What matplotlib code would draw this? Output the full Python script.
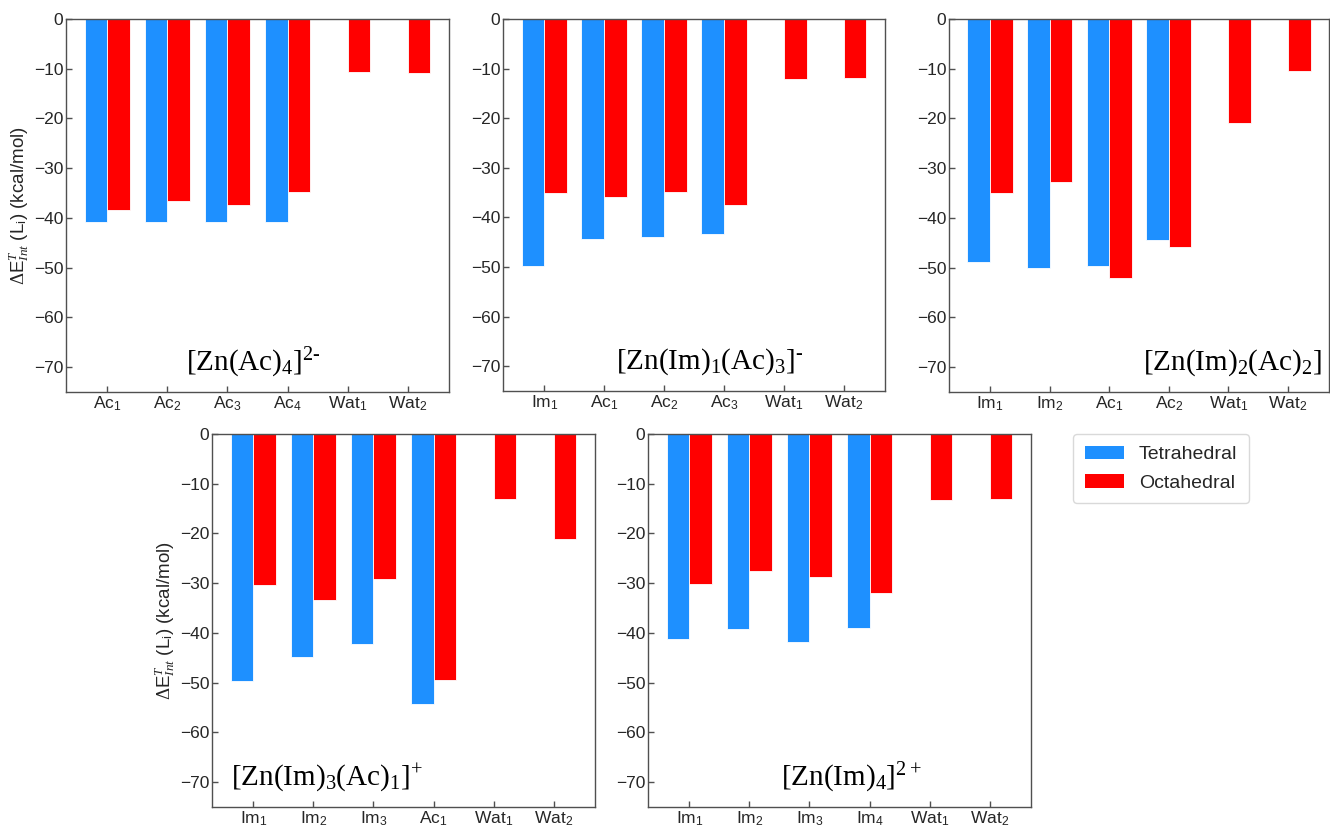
import numpy as np
import matplotlib
matplotlib.use("Agg")
import matplotlib.pyplot as plt
from matplotlib.patches import Patch

plt.rcParams["font.family"] = ["Liberation Sans", "DejaVu Sans"]
plt.rcParams["mathtext.fontset"] = "custom"
plt.rcParams["mathtext.rm"] = "Liberation Serif"
plt.rcParams["mathtext.it"] = "Liberation Serif:italic"
plt.rcParams["mathtext.sf"] = "Liberation Sans"

BLUE = "#1E90FF"
RED = "#FF0000"
TEXT = "#262626"
SPINE = "#505050"

nan = np.nan

# panel 1: [Zn(Ac)4]2-
labels_1 = ["Ac$_\\mathsf{1}$", "Ac$_\\mathsf{2}$", "Ac$_\\mathsf{3}$", "Ac$_\\mathsf{4}$",
            "Wat$_\\mathsf{1}$", "Wat$_\\mathsf{2}$"]
tetra_1 = [-40.9, -40.9, -40.9, -40.9, nan, nan]
octa_1 = [-38.4, -36.6, -37.5, -34.8, -10.6, -10.9]

# panel 2: [Zn(Im)1(Ac)3]-
labels_2 = ["Im$_\\mathsf{1}$", "Ac$_\\mathsf{1}$", "Ac$_\\mathsf{2}$", "Ac$_\\mathsf{3}$",
            "Wat$_\\mathsf{1}$", "Wat$_\\mathsf{2}$"]
tetra_2 = [-49.7, -44.4, -43.9, -43.4, nan, nan]
octa_2 = [-35.0, -35.9, -34.8, -37.5, -12.0, -11.8]

# panel 3: [Zn(Im)2(Ac)2]
labels_3 = ["Im$_\\mathsf{1}$", "Im$_\\mathsf{2}$", "Ac$_\\mathsf{1}$", "Ac$_\\mathsf{2}$",
            "Wat$_\\mathsf{1}$", "Wat$_\\mathsf{2}$"]
tetra_3 = [-48.9, -50.0, -49.6, -44.4, nan, nan]
octa_3 = [-34.9, -32.8, -52.0, -45.8, -20.9, -10.5]

# panel 4: [Zn(Im)3(Ac)1]+
labels_4 = ["Im$_\\mathsf{1}$", "Im$_\\mathsf{2}$", "Im$_\\mathsf{3}$", "Ac$_\\mathsf{1}$",
            "Wat$_\\mathsf{1}$", "Wat$_\\mathsf{2}$"]
tetra_4 = [-49.7, -44.9, -42.3, -54.2, nan, nan]
octa_4 = [-30.3, -33.4, -29.2, -49.4, -13.0, -21.1]

# panel 5: [Zn(Im)4]2+
labels_5 = ["Im$_\\mathsf{1}$", "Im$_\\mathsf{2}$", "Im$_\\mathsf{3}$", "Im$_\\mathsf{4}$",
            "Wat$_\\mathsf{1}$", "Wat$_\\mathsf{2}$"]
tetra_5 = [-41.3, -39.3, -41.9, -39.1, nan, nan]
octa_5 = [-30.2, -27.6, -28.8, -32.0, -13.3, -13.1]

titles = [
    r"$\mathrm{[Zn(Ac)_4]^{2\text{-}}}$",
    r"$\mathrm{[Zn(Im)_1(Ac)_3]^{\text{-}}}$",
    r"$\mathrm{[Zn(Im)_2(Ac)_2]}$",
    r"$\mathrm{[Zn(Im)_3(Ac)_1]^{+}}$",
    r"$\mathrm{[Zn(Im)_4]^{2+}}$",
]
title_x = [0.49, 0.54, 0.745, 0.30, 0.53]

YLABEL = r"$\Delta$E$^{T}_{Int}$ (L$_\mathsf{i}$) (kcal/mol)"

W, H = 1330, 827
# axes boxes in pixels: left, top, right, bottom
boxes = [
    (66, 19, 449, 392),
    (503, 19, 885, 391),
    (949, 19, 1329, 392),
    (212, 434, 595, 807),
    (648, 434, 1031, 807),
]

panels = [
    (labels_1, tetra_1, octa_1),
    (labels_2, tetra_2, octa_2),
    (labels_3, tetra_3, octa_3),
    (labels_4, tetra_4, octa_4),
    (labels_5, tetra_5, octa_5),
]

fig = plt.figure(figsize=(W / 100, H / 100), dpi=100)
width = 0.38

for i, ((labels, tetra, octa), (l, t, r, b)) in enumerate(zip(panels, boxes)):
    ax = fig.add_axes([l / W, 1 - b / H, (r - l) / W, (b - t) / H])
    x = np.arange(len(labels))
    ax.bar(x - width / 2, tetra, width, color=BLUE, edgecolor="white", linewidth=0.6)
    ax.bar(x + width / 2, octa, width, color=RED, edgecolor="white", linewidth=0.6)
    ax.set_xlim(-0.69, 5.69)
    ax.set_ylim(-75, 0)
    ax.set_yticks(np.arange(0, -71, -10))
    ax.set_xticks(x)
    ax.set_xticklabels(labels)
    ax.tick_params(direction="in", length=4, width=1, colors=SPINE,
                   labelcolor=TEXT, labelsize=12.5, pad=2)
    for s in ax.spines.values():
        s.set_color(SPINE)
        s.set_linewidth(1.0)
    ax.text(title_x[i], 0.078, titles[i], transform=ax.transAxes,
            ha="center", va="center", fontsize=21, color="black")
    if i in (0, 3):
        ax.set_ylabel(YLABEL, fontsize=13.5, color=TEXT, labelpad=2)

handles = [Patch(facecolor=BLUE, label="Tetrahedral"),
           Patch(facecolor=RED, label="Octahedral")]
leg = fig.legend(handles=handles, loc="upper left",
                 bbox_to_anchor=(1073 / W, 1 - 434 / H), fontsize=14,
                 frameon=True, fancybox=True, handlelength=2.0,
                 labelspacing=0.55, borderpad=0.6, borderaxespad=0,
                 labelcolor=TEXT)
leg.get_frame().set_edgecolor("#d0d0d0")

fig.savefig("out.png", dpi=100)
